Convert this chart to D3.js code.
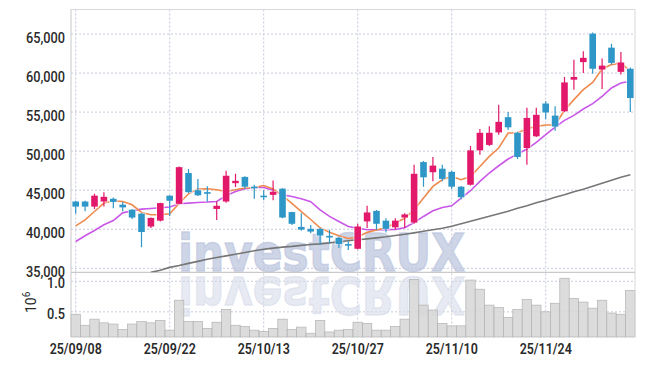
<!DOCTYPE html>
<html><head><meta charset="utf-8">
<script src="https://cdn.jsdelivr.net/npm/d3@7/dist/d3.min.js"></script>
<style>
body{margin:0;background:#fff;}
svg{display:block;}
.lbl{font-family:Roboto,"DejaVu Sans Condensed",sans-serif;fill:#2a2a2a;}
</style></head><body>
<svg id="c" width="645" height="366"></svg>
<script>
// ---- data ----
const dates = ["25/09/08","25/09/09","25/09/10","25/09/11","25/09/12","25/09/15","25/09/16","25/09/17","25/09/18","25/09/19",
"25/09/22","25/09/23","25/09/24","25/09/25","25/09/26","25/09/29","25/09/30","25/10/01","25/10/02","25/10/10",
"25/10/13","25/10/14","25/10/15","25/10/16","25/10/17","25/10/20","25/10/21","25/10/22","25/10/23","25/10/24",
"25/10/27","25/10/28","25/10/29","25/10/30","25/10/31","25/11/03","25/11/04","25/11/05","25/11/06","25/11/07",
"25/11/10","25/11/11","25/11/12","25/11/13","25/11/14","25/11/17","25/11/18","25/11/19","25/11/20","25/11/21",
"25/11/24","25/11/25","25/11/26","25/11/27","25/11/28","25/12/01","25/12/02","25/12/03","25/12/04","25/12/05"];
const openP = [43550,43550,42900,43550,43900,43150,42500,42000,40350,41100,44300,43250,47200,45000,44750,42600,43550,45900,46700,45450,44300,44400,45200,42200,40300,40050,40050,39150,38900,38100,37500,41000,42350,41100,40250,41500,40850,48600,47300,47750,47350,45450,45700,50100,50800,52400,54350,52350,50400,51900,56100,54550,55100,59150,61400,65050,60450,63250,60150,60550];
const highP = [43650,43650,44550,44750,44050,43500,42600,42050,41500,43400,44350,48050,47700,46450,45500,43550,47500,47100,46800,45700,45000,46250,45250,42250,42050,40550,40150,39950,39000,38450,40700,43000,42450,41400,41400,42050,48250,48750,49250,48250,47500,45550,50650,52850,53200,55950,55000,52500,55550,55550,56400,55750,59500,61700,62800,65200,61850,63750,62700,60700];
const lowP = [42000,42300,42600,42900,42700,42300,41300,37700,40150,41000,41700,43200,44650,44250,43550,41200,43400,45400,45200,43900,43700,43700,41400,40550,39800,39500,38000,38200,37600,37350,37400,40150,39950,39600,39950,40150,40700,45450,46150,46150,45150,43850,45600,49550,50650,52100,52700,49000,48250,51800,54100,52600,55000,57850,60000,59900,57950,61100,59800,55000];
const closeP = [42900,42900,44300,44150,43500,42800,41500,39650,41450,43350,43650,47950,44750,44350,44550,43000,46850,46200,45450,45250,44200,44800,41500,40700,39950,39700,39200,38950,38100,37950,40350,42150,40700,40050,41100,41900,47100,46650,48150,46450,45450,44100,50100,52350,52350,53750,53050,49250,54250,54650,54950,53150,58800,59500,61950,60550,60950,61300,61350,56800];
const ma5 = [40440,41210,42270,43350,43650,43560,43130,42150,41850,41850,41980,43300,44540,45150,45180,45050,44840,45050,45300,45350,45600,45150,44300,43300,42250,41250,40180,39600,39170,38820,39000,39600,39900,40200,40800,41400,42500,44000,45480,46340,46760,46340,46760,48040,49330,50400,52320,52320,52880,53170,53350,53350,55230,56600,57880,58810,60530,61080,61300,60220];
const ma20 = [38430,39160,39840,40570,41120,42100,42360,42580,42660,42750,42840,43260,43350,43430,43480,43560,44290,44840,45180,45350,45350,44990,44410,44200,43900,43520,42490,41640,40990,40350,40120,39930,39930,39930,39990,40200,40870,41640,42360,42790,43000,43990,44930,46120,47200,48130,48990,49630,50270,51120,52110,53090,53940,54580,55400,56080,57020,58090,58730,58950];
const ma60 = [null,null,null,null,null,null,null,null,34480,34740,35120,35350,35630,35890,36150,36380,36590,36810,37020,37240,37430,37580,37710,37810,37940,38040,38130,38260,38390,38520,38650,38770,38900,39030,39200,39350,39540,39740,39930,40120,40380,40700,41020,41340,41660,41980,42300,42680,43000,43390,43710,44090,44420,44800,45120,45500,45890,46270,46660,46980];
const volume = [0.46,0.28,0.38,0.32,0.30,0.21,0.30,0.34,0.32,0.36,0.20,0.69,0.34,0.34,0.23,0.33,0.54,0.28,0.26,0.20,0.18,0.23,0.38,0.21,0.25,0.15,0.36,0.17,0.20,0.21,0.33,0.31,0.20,0.20,0.26,0.38,1.03,0.61,0.53,0.31,0.27,0.27,1.02,0.87,0.61,0.57,0.41,0.54,0.70,0.61,0.50,0.64,1.05,0.72,0.66,0.56,0.69,0.48,0.46,0.85];
const priceTicks = [35000,40000,45000,50000,55000,60000,65000];
const volTicks = [0.5,1.0];
const dateTicks = ["25/09/08","25/09/22","25/10/13","25/10/27","25/11/10","25/11/24"];

// ---- layout ----
const L=71, R=635, T=9.5, MB=272.3, VB=337;
const svg = d3.select("#c");
const x = d3.scaleBand().domain(dates).range([L,R]).padding(0);
const cx = d => x(d) + x.bandwidth()/2;
const y = d3.scaleLinear().domain([34488,68137]).range([MB,T]);
const yv = d3.scaleLinear().domain([0.088,1.147]).range([VB,MB]);
const gridC = "#c6cbdc";

svg.append("defs").append("clipPath").attr("id","clipM")
  .append("rect").attr("x",L).attr("y",T).attr("width",R-L).attr("height",MB-T);

// grid
const g = svg.append("g");
g.selectAll(".hp").data(priceTicks).join("line")
  .attr("x1",L).attr("x2",R).attr("y1",d=>y(d)).attr("y2",d=>y(d))
  .attr("stroke",gridC).attr("stroke-dasharray","2,2");
g.selectAll(".hv").data(volTicks).join("line")
  .attr("x1",L).attr("x2",R).attr("y1",d=>yv(d)).attr("y2",d=>yv(d))
  .attr("stroke",gridC).attr("stroke-dasharray","2,2");
g.selectAll(".vx").data(dateTicks).join("line")
  .attr("x1",d=>cx(d)).attr("x2",d=>cx(d)).attr("y1",T).attr("y2",VB)
  .attr("stroke",gridC).attr("stroke-dasharray","2,2");

// watermark
const wm = svg.append("g");
const wmFont = "'DejaVu Sans',sans-serif";
wm.append("text").attr("x",178).attr("y",271).attr("textLength",287).attr("lengthAdjust","spacingAndGlyphs")
  .style("font-family",wmFont).style("font-weight","bold").style("font-size","52px")
  .attr("fill","#bcc5de").attr("stroke","#bcc5de").attr("stroke-width",1.5)
  .attr("fill-opacity",0.72).attr("stroke-opacity",0.72).text("investCRUX");
wm.append("text").attr("x",178).attr("y",-277).attr("transform","scale(1,-1)").attr("textLength",287).attr("lengthAdjust","spacingAndGlyphs")
  .style("font-family",wmFont).style("font-weight","bold").style("font-size","52px")
  .attr("fill","#d7dcea").attr("stroke","#d7dcea").attr("stroke-width",1.5)
  .attr("fill-opacity",0.6).attr("stroke-opacity",0.6).text("investCRUX");

// volume bars
svg.append("g").selectAll("rect").data(dates).join("rect")
  .attr("x",d=>x(d)).attr("width",x.bandwidth())
  .attr("y",(d,i)=>yv(volume[i])).attr("height",(d,i)=>VB-yv(volume[i]))
  .attr("fill","#d6d6d6").attr("fill-opacity",0.85).attr("stroke","#b3b3b3").attr("stroke-width",0.7);

// frame
svg.append("line").attr("x1",L).attr("x2",R).attr("y1",T).attr("y2",T).attr("stroke","#d8d8d8");
svg.append("line").attr("x1",R).attr("x2",R).attr("y1",T).attr("y2",VB).attr("stroke","#d8d8d8");
svg.append("line").attr("x1",L).attr("x2",L).attr("y1",T).attr("y2",VB).attr("stroke","#c8c8c8");
svg.append("line").attr("x1",L).attr("x2",R).attr("y1",MB).attr("y2",MB).attr("stroke","#bdbdbd");

// MA lines
const main = svg.append("g").attr("clip-path","url(#clipM)");
const lineOf = arr => d3.line().defined((d,i)=>arr[i]!=null).x(d=>cx(d)).y((d,i)=>y(arr[i]));
main.append("path").attr("d",lineOf(ma60)(dates)).attr("fill","none").attr("stroke","#767676").attr("stroke-width",1.6);
main.append("path").attr("d",lineOf(ma20)(dates)).attr("fill","none").attr("stroke","#c957e8").attr("stroke-width",1.6);
main.append("path").attr("d",lineOf(ma5)(dates)).attr("fill","none").attr("stroke","#ef8a4f").attr("stroke-width",1.6);

// candles
const up="#e2196b", dn="#2f96c8", bw=6.6;
const cg = main.append("g");
dates.forEach((d,i)=>{
  const c = closeP[i]>=openP[i]?up:dn;
  const top = y(Math.max(openP[i],closeP[i])), bot = y(Math.min(openP[i],closeP[i]));
  const h = Math.max(1.6, bot-top);
  cg.append("rect").attr("x",cx(d)-bw/2-1).attr("width",bw+2).attr("y",top-1).attr("height",h+2)
    .attr("fill","#fff").attr("fill-opacity",0.6);
  cg.append("line").attr("x1",cx(d)).attr("x2",cx(d)).attr("y1",y(highP[i])).attr("y2",y(lowP[i]))
    .attr("stroke",c).attr("stroke-width",1.2);
  cg.append("rect").attr("x",cx(d)-bw/2).attr("width",bw).attr("y",top).attr("height",h).attr("fill",c);
});

// axes
const ay = svg.append("g").attr("transform",`translate(${L},0)`)
  .call(d3.axisLeft(y).tickValues(priceTicks).tickFormat(d3.format(",")).tickSize(0).tickPadding(0));
const av = svg.append("g").attr("transform",`translate(${L},0)`)
  .call(d3.axisLeft(yv).tickValues(volTicks).tickFormat(d3.format(".1f")).tickSize(0).tickPadding(0));
const ax = svg.append("g").attr("transform",`translate(0,${VB})`)
  .call(d3.axisBottom(x).tickValues(dateTicks).tickSize(0).tickPadding(0));
[ay,av,ax].forEach(a=>{a.select(".domain").remove(); a.selectAll("text").attr("class","lbl").style("font-size","15px");});
ay.selectAll("text").attr("x",0).attr("dy","8px").attr("transform","translate(-6,0) scale(0.85,1)").style("font-weight","500");
av.selectAll("text").attr("x",0).attr("dy","6.5px").attr("transform","translate(-6,0) scale(0.85,1)").style("font-weight","500");
ax.selectAll("text").attr("dy","0").attr("y",17).attr("transform","scale(0.83,1)").style("font-weight","600");

// 10^6 label
const ut = svg.append("text").attr("class","lbl").attr("transform","translate(35.5,313) rotate(-90)").style("font-size","14px");
ut.append("tspan").text("10");
ut.append("tspan").attr("dy","-6").style("font-size","10px").text("6");
</script>
</body></html>
